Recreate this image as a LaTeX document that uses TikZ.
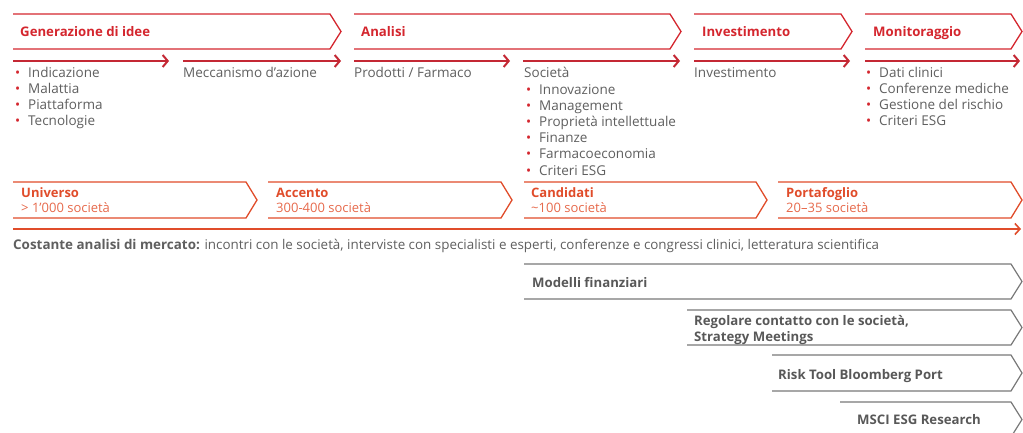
\documentclass[tikz,border=0pt]{standalone}
\usepackage{fontspec}
\setmainfont{Open Sans}
\usetikzlibrary{arrows.meta}
\definecolor{hred}{RGB}{212,38,46}
\definecolor{ared}{RGB}{196,40,52}
\definecolor{ored}{RGB}{224,76,42}
\definecolor{osub}{RGB}{230,105,75}
\definecolor{gtxt}{RGB}{95,95,95}
\definecolor{gline}{RGB}{120,120,120}
\definecolor{gbold}{RGB}{88,88,88}
\newcommand\chevpath[5]{\draw[#5] (#1,#3) -- ({#2-11},#3) -- (#2,{(#3+#4)/2}) -- ({#2-11},#4) -- (#1,#4);}
\newcommand\bul{\makebox[13pt][l]{\textcolor{hred}{•}}}
\begin{document}
\begin{tikzpicture}[x=1pt,y=-1pt,
 every node/.style={inner sep=0pt, anchor=base west},
 body/.style={font=\fontsize{13.5}{16}\selectfont, text=gtxt},
 head/.style={font=\fontsize{13.2}{16}\selectfont\bfseries, text=hred},
 stage/.style={font=\fontsize{13}{16}\selectfont\bfseries, text=ored},
 stagesub/.style={font=\fontsize{13}{16}\selectfont, text=osub},
 tool/.style={font=\fontsize{13.2}{16}\selectfont\bfseries, text=gbold},
 hchev/.style={draw=hred, line width=1.3pt},
 ochev/.style={draw=ored, line width=1.3pt},
 gchev/.style={draw=gline, line width=1.2pt},
 arr/.style={draw=ared, line width=2pt, -{Straight Barb[length=5pt,width=12pt]}},
 oarr/.style={draw=ored, line width=1.6pt, -{Straight Barb[length=5pt,width=11pt]}},
]
\useasboundingbox (0,0) rectangle (1023,433);

% top phase chevrons
\chevpath{13}{341}{14}{49}{hchev}
\chevpath{354}{681}{14}{49}{hchev}
\chevpath{694}{852}{14}{49}{hchev}
\chevpath{865}{1022}{14}{49}{hchev}
\node[head] (h1) at (20,37) {Generazione di idee};
\node[head] (h2) at (361,37) {Analisi};
\node[head] (h3) at (702,37) {Investimento};
\node[head] (h4) at (873,37) {Monitoraggio};

% step arrows
\foreach \i/\a/\b in {1/13/169,2/183/341,3/354/510,4/523/680,5/694/850,6/865/1020}{
  \coordinate (s\i) at (\a,61);
  \coordinate (e\i) at (\b,61);
  \draw[arr] (s\i) -- (e\i);
}

% lists
\foreach \t [count=\k from 0] in {Indicazione,Malattia,Piattaforma,Tecnologie}
  \node[body] (la\k) at (15,{78+16*\k}) {\bul\t};
\node[body] (lb) at (183,78) {Meccanismo d’azione};
\node[body] (lc) at (354,78) {Prodotti / Farmaco};
\node[body] (ld) at (524,78) {Società};
\foreach \t [count=\k from 1] in {Innovazione,Management,Proprietà intellettuale,Finanze,Farmacoeconomia,Criteri ESG}
  \node[body] (le\k) at (526,{78+16.2*\k}) {\bul\t};
\node[body] (lf) at (694,78) {Investimento};
\foreach \t [count=\k from 0] in {Dati clinici,Conferenze mediche,Gestione del rischio,Criteri ESG}
  \node[body] (lg\k) at (866,{78+16*\k}) {\bul\t};

% stage chevrons
\chevpath{13}{257}{182}{218}{ochev}
\chevpath{268}{512}{182}{218}{ochev}
\chevpath{524}{767}{182}{218}{ochev}
\chevpath{778}{1022}{182}{218}{ochev}
\node[stage] (u1) at (21,197.5) {Universo};
\node[stagesub] (u2) at (21,212.5) {> 1’000 società};
\node[stage] (a1) at (276,197.5) {Accento};
\node[stagesub] (a2) at (276,212.5) {300-400 società};
\node[stage] (c1) at (531,197.5) {Candidati};
\node[stagesub] (c2) at (531,212.5) {\textasciitilde100 società};
\node[stage] (p1) at (786,197.5) {Portafoglio};
\node[stagesub] (p2) at (786,212.5) {20–35 società};

\coordinate (ms) at (13,229);
\coordinate (me) at (1021,229);
\draw[oarr] (ms) -- (me);
\node[body, font=\fontsize{13.4}{16}\selectfont] (mk) at (13,249) {\textbf{Costante analisi di mercato:} incontri con le società, interviste con specialisti e esperti, conferenze e congressi clinici, letteratura scientifica};

% tools
\chevpath{524}{1022}{264}{299}{gchev}
\chevpath{687}{1022}{310}{345}{gchev}
\chevpath{772}{1022}{355}{391}{gchev}
\chevpath{840}{1022}{402}{437}{gchev}
\node[tool] (t1) at (532,287) {Modelli finanziari};
\node[tool] (t2) at (694,325) {Regolare contatto con le società,};
\node[tool] (t2b) at (694,341) {Strategy Meetings};
\node[tool] (t3) at (778,379) {Risk Tool Bloomberg Port};
\node[tool] (t4) at (857,424) {MSCI ESG Research};
\end{tikzpicture}
\end{document}
